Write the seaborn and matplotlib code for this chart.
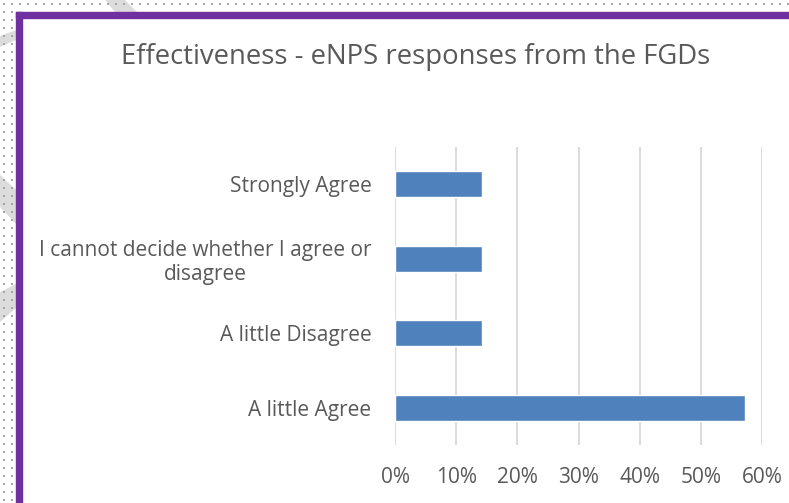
import matplotlib
matplotlib.use("Agg")
import matplotlib.pyplot as plt
import seaborn as sns
import pandas as pd
import numpy as np
from matplotlib.patches import Rectangle, Polygon
from matplotlib.ticker import PercentFormatter

categories = ["Strongly Agree",
              "I cannot decide whether I agree or\ndisagree",
              "A little Disagree",
              "A little Agree"]
values = [1/7, 1/7, 1/7, 4/7]
title = "Effectiveness - eNPS responses from the FGDs"

df = pd.DataFrame({"category": categories, "value": values})

sns.set_theme(style="white")
plt.rcParams['font.family'] = ['Open Sans', 'DejaVu Sans']

W, H = 789, 503
fig = plt.figure(figsize=(W/100, H/100), dpi=100)
fig.patch.set_facecolor("white")

# page background in margins: faint watermark pieces and dotted grid
bg = fig.add_axes([0, 0, 1, 1], zorder=-5)
bg.set_xlim(0, W); bg.set_ylim(H, 0); bg.axis("off")
for poly in ([(105, 0), (125, 0), (137, 12), (115, 12)],
             [(0, 36), (16, 30), (16, 40), (0, 47)],
             [(0, 175), (16, 190), (16, 224), (0, 207)],
             [(0, 292), (16, 284), (16, 308), (0, 322)]):
    bg.add_patch(Polygon(poly, closed=True, color="#DCDCDC", linewidth=0))
dx = np.arange(4, W, 8)
dy = np.arange(4, H, 8)
pts = [(x, y) for x in dx for y in dy if x < 15 or y < 11]
px, py = zip(*pts)
bg.scatter(px, py, s=1.2, color="#A6A6A6", marker="s", linewidths=0)

# purple border
fig.add_artist(Rectangle((16/W, 0), 6/W, 1 - 12/H, transform=fig.transFigure,
                         color="#7030A0", zorder=3))
fig.add_artist(Rectangle((16/W, 1 - 18/H), 1 - 16/W, 6/H, transform=fig.transFigure,
                         color="#7030A0", zorder=3))

ax = fig.add_axes([395/W, 1 - 445/H, (762-395)/W, (445-147)/H])
sns.barplot(data=df, y="category", x="value", orient="h", color="#4F81BD",
            width=0.35, ax=ax, saturation=1)
ax.set_xlim(0, 0.6)
ax.set_xticks(np.arange(0, 0.61, 0.1))
ax.xaxis.set_major_formatter(PercentFormatter(1.0, decimals=0))
ax.grid(axis="x", color="#D9D9D9", linewidth=1.3)
ax.set_axisbelow(True)
for s in ax.spines.values():
    s.set_visible(False)
ax.set_xlabel(""); ax.set_ylabel("")
ax.tick_params(axis="both", length=0, labelsize=15, colors="#595959")
ax.tick_params(axis="y", pad=17)
ax.tick_params(axis="x", pad=16)
for lbl in ax.get_yticklabels():
    lbl.set_multialignment("center")

fig.text(416/W, 1 - 57/H, title, ha="center", va="center", fontsize=19.8, color="#595959")

fig.savefig("out.png", dpi=100)
